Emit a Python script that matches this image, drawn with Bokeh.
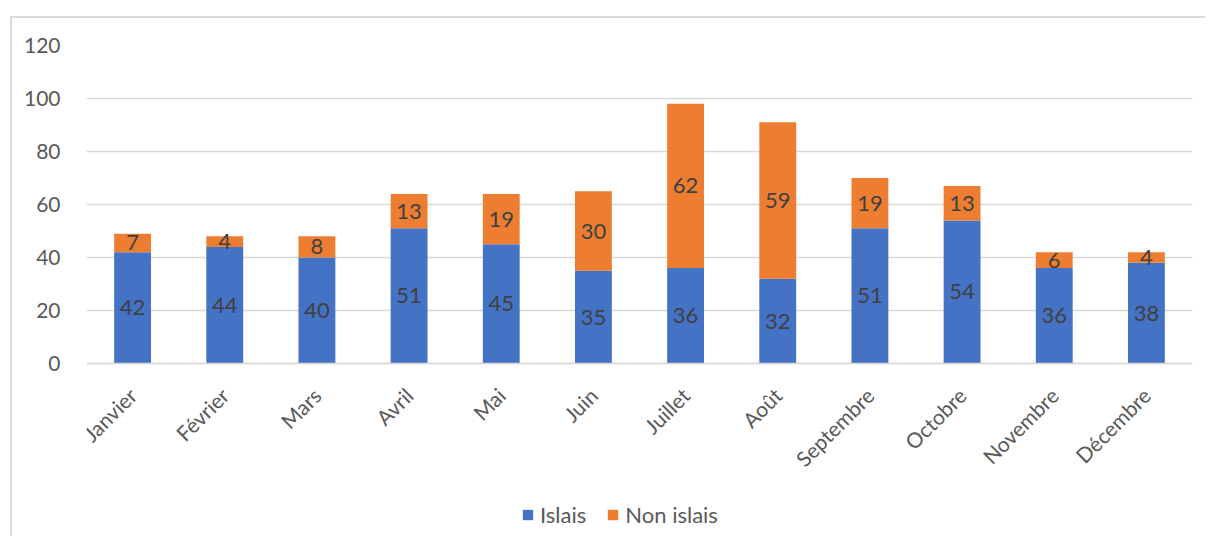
import math
from bokeh.plotting import figure
from bokeh.models import ColumnDataSource, Range1d, FactorRange, Legend, LegendItem, FixedTicker
from bokeh.embed import file_html
from bokeh.resources import INLINE
from bokeh.core.properties import value

months = ["Janvier", "Février", "Mars", "Avril", "Mai", "Juin", "Juillet",
          "Août", "Septembre", "Octobre", "Novembre", "Décembre"]
islais = [42, 44, 40, 51, 45, 35, 36, 32, 51, 54, 36, 38]
non_islais = [7, 4, 8, 13, 19, 30, 62, 59, 19, 13, 6, 4]
series_names = ["Islais", "Non islais"]
colors = ["#4472C4", "#ED7D31"]
y_ticks = [0, 20, 40, 60, 80, 100, 120]

FONT = "Lato"
TXT = "#595959"
LBL = "#404040"
GRID = "#d9d9d9"

# layout (pixels): value axis spans 318 px for 0..120, space below 0 is 175 px
Y_MAX = 120
AXIS_PX = 318
BELOW_PX = 175
y_start = -Y_MAX * BELOW_PX / AXIS_PX

src = ColumnDataSource(dict(
    month=months,
    islais=islais,
    non_islais=non_islais,
    islais_mid=[v / 2 for v in islais],
    non_mid=[a + b / 2 for a, b in zip(islais, non_islais)],
    islais_txt=[str(v) for v in islais],
    non_txt=[str(v) for v in non_islais],
))

p = figure(x_range=FactorRange(*months), y_range=Range1d(y_start, Y_MAX),
           width=1195, height=520, output_backend="svg", toolbar_location=None,
           min_border_left=74, min_border_right=15, min_border_top=27,
           min_border_bottom=0)
p.margin = (16, 0, 0, 10)
p.styles = {"border-left": "2px solid #d9d9d9", "border-top": "2px solid #d9d9d9"}
p.outline_line_color = None
p.background_fill_color = "white"
p.border_fill_color = "white"

rs = p.vbar_stack(["islais", "non_islais"], x="month", width=0.4, color=colors,
                  line_width=0, source=src)

p.text(x="month", y="islais_mid", text="islais_txt", source=src,
       text_align="center", text_baseline="middle", text_color=LBL,
       text_font=value(FONT), text_font_size="22px")
p.text(x="month", y="non_mid", text="non_txt", source=src,
       text_align="center", text_baseline="middle", text_color=LBL,
       text_font=value(FONT), text_font_size="22px")

p.xgrid.grid_line_color = None
p.ygrid.ticker = FixedTicker(ticks=y_ticks)
p.ygrid.grid_line_color = GRID
p.ygrid.grid_line_width = 1.5
p.yaxis.ticker = FixedTicker(ticks=y_ticks)
p.yaxis.axis_line_color = None
p.yaxis.major_tick_line_color = None
p.yaxis.minor_tick_line_color = None
p.yaxis.major_label_standoff = 20
p.xaxis.fixed_location = 0
p.xaxis.axis_line_color = GRID
p.xaxis.axis_line_width = 1.5
p.xaxis.major_tick_line_color = None
p.xaxis.minor_tick_line_color = None
p.xaxis.major_label_orientation = math.pi / 4
p.xaxis.major_label_standoff = 22
p.xaxis.major_label_text_font_size = "21px"
p.yaxis.major_label_text_font_size = "21px"
for ax in (p.xaxis, p.yaxis):
    ax.major_label_text_font = FONT
    ax.major_label_text_color = TXT

legend = Legend(items=[LegendItem(label=series_names[0], renderers=[rs[0]]),
                       LegendItem(label=series_names[1], renderers=[rs[1]])],
                orientation="horizontal", location=(435, 10),
                padding=0, margin=0, spacing=20, label_standoff=6,
                glyph_width=13, glyph_height=13,
                label_text_font=FONT, label_text_font_size="22px",
                label_text_color=TXT, border_line_color=None,
                background_fill_alpha=0)
p.add_layout(legend)

open("out.html", "w").write(file_html(p, INLINE))
